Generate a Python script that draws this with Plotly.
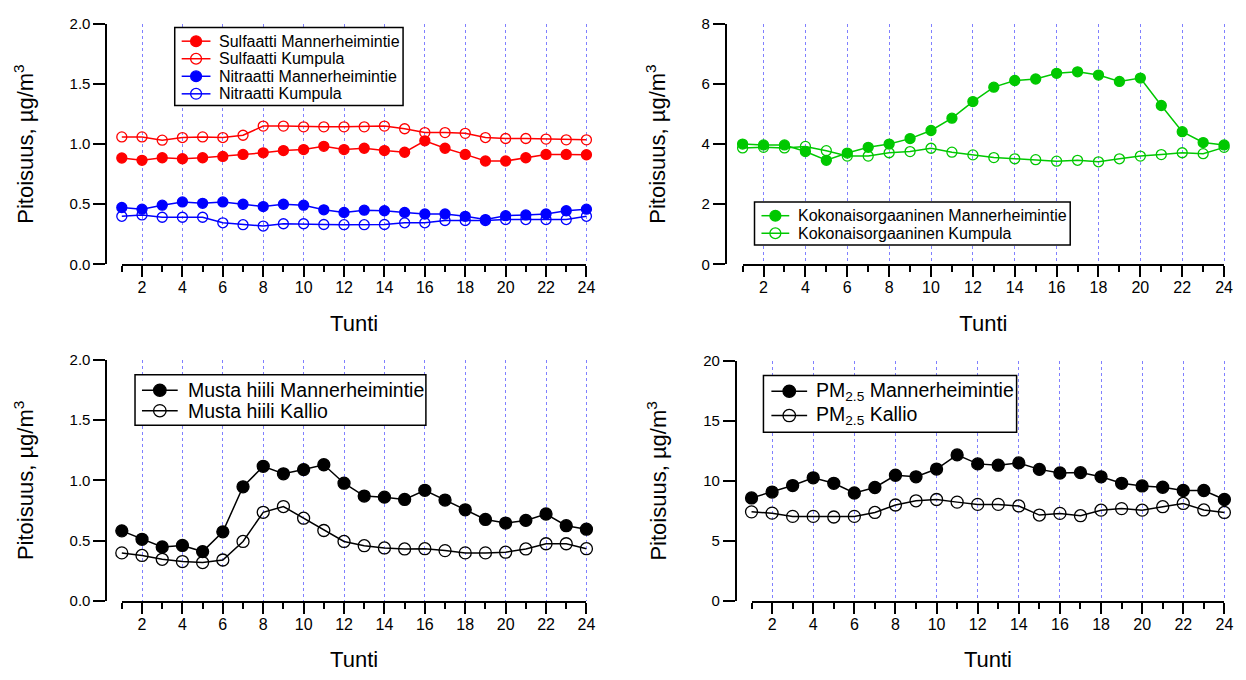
import plotly.graph_objects as go

W, H = 1246, 680
hours = list(range(1, 25))

# ---- data ----
sulf_mann = [0.884, 0.865, 0.886, 0.878, 0.886, 0.897, 0.914, 0.927, 0.946, 0.954, 0.981, 0.954,
             0.965, 0.946, 0.932, 1.027, 0.965, 0.914, 0.859, 0.859, 0.886, 0.914, 0.914, 0.911]
sulf_kump = [1.059, 1.059, 1.032, 1.054, 1.059, 1.054, 1.073, 1.149, 1.149, 1.143, 1.143, 1.143,
             1.143, 1.149, 1.127, 1.095, 1.095, 1.089, 1.054, 1.046, 1.046, 1.041, 1.035, 1.035]
nitr_mann = [0.473, 0.459, 0.492, 0.519, 0.508, 0.519, 0.500, 0.481, 0.500, 0.492, 0.454, 0.432,
             0.451, 0.446, 0.432, 0.419, 0.419, 0.400, 0.373, 0.405, 0.411, 0.419, 0.446, 0.459]
nitr_kump = [0.400, 0.411, 0.392, 0.392, 0.392, 0.346, 0.330, 0.319, 0.338, 0.338, 0.332, 0.330,
             0.330, 0.332, 0.346, 0.346, 0.365, 0.365, 0.365, 0.373, 0.373, 0.373, 0.373, 0.400]
org_mann = [4.00, 3.97, 3.97, 3.75, 3.46, 3.70, 3.89, 4.00, 4.18, 4.45, 4.86, 5.41,
            5.89, 6.11, 6.16, 6.35, 6.40, 6.29, 6.08, 6.19, 5.28, 4.41, 4.05, 3.97]
org_kump = [3.87, 3.89, 3.87, 3.92, 3.78, 3.60, 3.60, 3.71, 3.75, 3.86, 3.73, 3.64,
            3.55, 3.51, 3.48, 3.43, 3.46, 3.41, 3.51, 3.60, 3.65, 3.71, 3.68, 3.89]
bc_mann = [0.581, 0.511, 0.447, 0.460, 0.409, 0.573, 0.947, 1.117, 1.055, 1.090, 1.130, 0.977,
           0.870, 0.861, 0.842, 0.918, 0.837, 0.756, 0.676, 0.646, 0.668, 0.721, 0.624, 0.595]
bc_kall = [0.398, 0.377, 0.345, 0.326, 0.318, 0.339, 0.493, 0.735, 0.783, 0.686, 0.584, 0.493,
           0.458, 0.439, 0.431, 0.433, 0.417, 0.398, 0.398, 0.404, 0.431, 0.474, 0.474, 0.433]
pm_mann = [8.58, 9.07, 9.61, 10.26, 9.80, 8.99, 9.45, 10.47, 10.34, 10.99, 12.17, 11.42,
           11.31, 11.50, 10.96, 10.66, 10.69, 10.34, 9.80, 9.58, 9.47, 9.20, 9.20, 8.45]
pm_kall = [7.42, 7.31, 7.04, 7.04, 6.99, 7.04, 7.37, 7.99, 8.34, 8.45, 8.23, 8.04,
           8.04, 7.91, 7.15, 7.29, 7.10, 7.56, 7.69, 7.56, 7.85, 8.12, 7.58, 7.37]

FONT = "Liberation Sans, Arial, sans-serif"
RED, BLUE, GREEN, BLACK = "#ff0000", "#0000ff", "#00c800", "#000000"

def fx(px):
    return px / W

def fy(py):
    return 1 - py / H

# panel geometry (pixels): y-axis x, hour1 x, hour24 x, right edge, top, bottom
panels = [
    dict(yx=108, h1=122.7, h24=590.7, right=596, top=15, bot=262, ymax=2.0, dtick=0.5, fmt=".1f"),
    dict(yx=732, h1=748.0, h24=1233.0, right=1239, top=15, bot=262, ymax=8, dtick=2, fmt="d"),
    dict(yx=108, h1=122.7, h24=590.7, right=596, top=360, bot=607, ymax=2.0, dtick=0.5, fmt=".1f"),
    dict(yx=742, h1=757.0, h24=1233.3, right=1239, top=361, bot=607, ymax=20, dtick=5, fmt="d"),
]

series = [
    (1, "Sulfaatti Mannerheimintie", sulf_mann, RED, True, 10),
    (1, "Sulfaatti Kumpula", sulf_kump, RED, False, 10),
    (1, "Nitraatti Mannerheimintie", nitr_mann, BLUE, True, 10),
    (1, "Nitraatti Kumpula", nitr_kump, BLUE, False, 10),
    (2, "Kokonaisorgaaninen Mannerheimintie", org_mann, GREEN, True, 10),
    (2, "Kokonaisorgaaninen Kumpula", org_kump, GREEN, False, 10),
    (3, "Musta hiili Mannerheimintie", bc_mann, BLACK, True, 12),
    (3, "Musta hiili Kallio", bc_kall, BLACK, False, 12),
    (4, "PM<sub>2.5</sub> Mannerheimintie", pm_mann, BLACK, True, 12),
    (4, "PM<sub>2.5</sub> Kallio", pm_kall, BLACK, False, 12),
]

# legend box layout per panel (pixels): box, row centres, symbol line, text start, font
legend_boxes = {
    1: dict(box=(176, 19, 406, 99), rows=[33, 51, 69, 87], line=(183, 212), text_x=220, font=16, r=5.5),
    2: dict(box=(760, 198, 1078, 242), rows=[212, 230], line=(767, 795), text_x=803, font=16, r=5.5),
    3: dict(box=(136, 375, 429, 427), rows=[391, 412], line=(143, 179), text_x=188, font=19.5, r=6.3),
    4: dict(box=(769, 376, 1024, 434), rows=[392, 417], line=(777, 813), text_x=821, font=19.5, r=6.3),
}

fig = go.Figure()
for p, name, vals, col, filled, msize in series:
    fig.add_trace(go.Scatter(
        x=hours, y=vals, name=name, mode="lines+markers",
        xaxis="x" if p == 1 else f"x{p}", yaxis="y" if p == 1 else f"y{p}",
        showlegend=False, cliponaxis=False,
        line=dict(color=col, width=1.5),
        marker=dict(symbol="circle" if filled else "circle-open", size=msize,
                    color=col, line=dict(color=col, width=1.3)),
    ))

# empty helper traces so that the hour axes (x5..x8) are rendered
for i in range(1, 5):
    fig.add_trace(go.Scatter(
        x=[], y=[], mode="markers", showlegend=False, hoverinfo="skip",
        xaxis=f"x{i + 4}", yaxis="y" if i == 1 else f"y{i}",
    ))

layout = dict(
    width=W, height=H, margin=dict(l=0, r=0, t=0, b=0),
    paper_bgcolor="white", plot_bgcolor="rgba(0,0,0,0)",
    font=dict(family=FONT, size=15, color="black"),
    showlegend=False,
)

for i, pn in enumerate(panels, start=1):
    s = (pn["h24"] - pn["h1"]) / 23.0
    lo = 1 - (pn["h1"] - pn["yx"]) / s
    hi = 24 + (pn["right"] - pn["h24"]) / s
    xk = "xaxis" if i == 1 else f"xaxis{i}"
    yk = "yaxis" if i == 1 else f"yaxis{i}"
    yid = "y" if i == 1 else f"y{i}"
    xid = "x" if i == 1 else f"x{i}"
    layout[xk] = dict(
        domain=[fx(pn["yx"]), fx(pn["right"])], range=[lo, hi], anchor=yid,
        showline=False, ticks="", showticklabels=False, zeroline=False,
        showgrid=True, gridcolor="#8080ff", griddash="dot", gridwidth=1,
        tickmode="linear", tick0=0, dtick=2,
    )
    layout[yk] = dict(
        domain=[fy(pn["bot"]), fy(pn["top"])], range=[0, pn["ymax"]], anchor=xid,
        showline=True, linewidth=1.6, linecolor="black",
        ticks="outside", ticklen=12, tickwidth=1.6, tickcolor="black",
        tickmode="linear", tick0=0, dtick=pn["dtick"], tickformat=pn["fmt"],
        showgrid=False, zeroline=False,
        tickfont=dict(size=15),
        title=dict(text="Pitoisuus, µg/m<sup>3</sup>", font=dict(size=22), standoff=30),
    )
    # hour axis spanning hour 1..24
    layout[f"xaxis{i + 4}"] = dict(
        domain=[fx(pn["h1"]), fx(pn["h24"])], range=[1, 24], anchor=yid,
        showline=True, linewidth=1.6, linecolor="black",
        ticks="outside", ticklen=11, tickwidth=1.6, tickcolor="black",
        tickmode="linear", tick0=2, dtick=2,
        minor=dict(tickmode="linear", tick0=1, dtick=1, ticks="outside", ticklen=6,
                   tickwidth=1.6, tickcolor="black", showgrid=False),
        showgrid=False, zeroline=False, tickfont=dict(size=16), ticklabelstandoff=-3,
        title=dict(text="Tunti", font=dict(size=22), standoff=20),
    )

# legends drawn as a framed key next to each panel's series
shapes, annotations = [], []
for p, name, vals, col, filled, msize in series:
    lb = legend_boxes[p]
    k = [s_[1] for s_ in series if s_[0] == p].index(name)
    cy = lb["rows"][k]
    x0, x1 = lb["line"]
    cx = (x0 + x1) / 2
    r = lb["r"]
    shapes.append(dict(type="line", xref="paper", yref="paper", layer="above",
                       x0=fx(x0), x1=fx(x1), y0=fy(cy), y1=fy(cy),
                       line=dict(color=col, width=1.5)))
    shapes.append(dict(type="circle", xref="paper", yref="paper", layer="above",
                       x0=fx(cx - r), x1=fx(cx + r), y0=fy(cy + r), y1=fy(cy - r),
                       fillcolor=col if filled else "rgba(0,0,0,0)",
                       line=dict(color=col, width=1.3)))
    annotations.append(dict(xref="paper", yref="paper", x=fx(lb["text_x"]), y=fy(cy),
                            xanchor="left", yanchor="middle", showarrow=False,
                            text=name, font=dict(size=lb["font"], color="black"),
                            borderpad=0))

box_shapes = []
for p, lb in legend_boxes.items():
    bx0, by0, bx1, by1 = lb["box"]
    box_shapes.append(dict(type="rect", xref="paper", yref="paper", layer="above",
                           x0=fx(bx0), x1=fx(bx1), y0=fy(by1), y1=fy(by0),
                           fillcolor="white", line=dict(color="black", width=1.5)))

layout["shapes"] = box_shapes + shapes
layout["annotations"] = annotations

fig.update_layout(**layout)
fig.write_html("out.html")
